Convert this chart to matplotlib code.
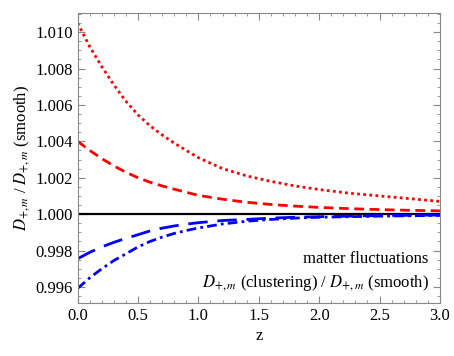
import matplotlib
matplotlib.use("Agg")
import matplotlib.pyplot as plt
from matplotlib.ticker import MultipleLocator

plt.rcParams['font.family'] = ['Liberation Serif', 'DejaVu Serif']
plt.rcParams['mathtext.fontset'] = 'stix'

z_red = [0.0, 0.1, 0.2, 0.3, 0.4, 0.5, 0.6, 0.7, 0.8, 0.9, 1.0,
         1.2, 1.4, 1.6, 1.8, 2.0, 2.25, 2.5, 2.75, 3.0]
red_dotted = [1.0105, 1.0092, 1.0081, 1.0071, 1.0062, 1.00545, 1.00485, 1.00435, 1.0039, 1.0035, 1.0031,
              1.0025, 1.0021, 1.0018, 1.00155, 1.00135, 1.00115, 1.0010, 1.00085, 1.0007]
red_dashed = [1.0040, 1.0035, 1.00305, 1.00265, 1.0023, 1.0020, 1.00175, 1.00155, 1.00137, 1.0012, 1.00103,
              1.00082, 1.00065, 1.00053, 1.00044, 1.00037, 1.0003, 1.00025, 1.00021, 1.00018]

z_blue = [0.0, 0.1, 0.2, 0.3, 0.4, 0.5, 0.6, 0.7, 0.8, 0.9, 1.0,
          1.2, 1.4, 1.6, 1.8, 2.0, 2.5, 3.0]
blue_longdash = [0.99755, 0.9979, 0.9982, 0.99845, 0.99867, 0.99887, 0.99908, 0.99923, 0.99935, 0.99945, 0.99953,
                 0.99965, 0.99971, 0.99978, 0.99983, 0.99986, 0.99992, 0.99995]
blue_dashdot = [0.99592, 0.9965, 0.9970, 0.99745, 0.99782, 0.9982, 0.9985, 0.99874, 0.99894, 0.9991, 0.99924,
                0.99946, 0.99961, 0.99971, 0.99978, 0.99983, 0.99989, 0.99993]

fig = plt.figure(figsize=(4.54, 3.56), dpi=100)
ax = fig.add_axes([0.171, 0.149, 0.798, 0.814])

ax.axhline(1.0, color='black', lw=1.6)
ax.plot(z_red, red_dotted, color='red', lw=2, ls=(0, (1, 1.2)))
ax.plot(z_red, red_dashed, color='red', lw=2, ls=(0, (3.5, 2)))
ax.plot(z_blue, blue_longdash, color='blue', lw=2, ls=(0, (7, 3.5)))
ax.plot(z_blue, blue_dashdot, color='blue', lw=2, ls=(0, (3.5, 1.5, 1, 1.5)))

ax.set_xlim(0, 3)
ax.set_ylim(0.99512, 1.01104)
ax.xaxis.set_major_locator(MultipleLocator(0.5))
ax.xaxis.set_minor_locator(MultipleLocator(0.1))
ax.yaxis.set_major_locator(MultipleLocator(0.002))
ax.yaxis.set_minor_locator(MultipleLocator(0.0005))
ax.yaxis.set_major_formatter(plt.FormatStrFormatter('%.3f'))
ax.xaxis.set_major_formatter(plt.FormatStrFormatter('%.1f'))

for s in ax.spines.values():
    s.set_color('#888888')
ax.tick_params(which='both', direction='in', top=True, right=True, color='#888888',
               labelsize=12, labelcolor='black')
ax.tick_params(which='major', length=5)
ax.tick_params(which='minor', length=2.5)

ax.set_xlabel('z', fontsize=12, labelpad=3)
ax.set_ylabel(r'$D_{+,m}$ / $D_{+,m}$ (smooth)', fontsize=12, labelpad=2)

ax.text(0.969, 0.152, 'matter fluctuations', transform=ax.transAxes,
        ha='right', va='center', fontsize=12)
ax.text(0.969, 0.069, r'$D_{+,m}$ (clustering) / $D_{+,m}$ (smooth)', transform=ax.transAxes,
        ha='right', va='center', fontsize=12)

fig.savefig('out.png', dpi=100)
